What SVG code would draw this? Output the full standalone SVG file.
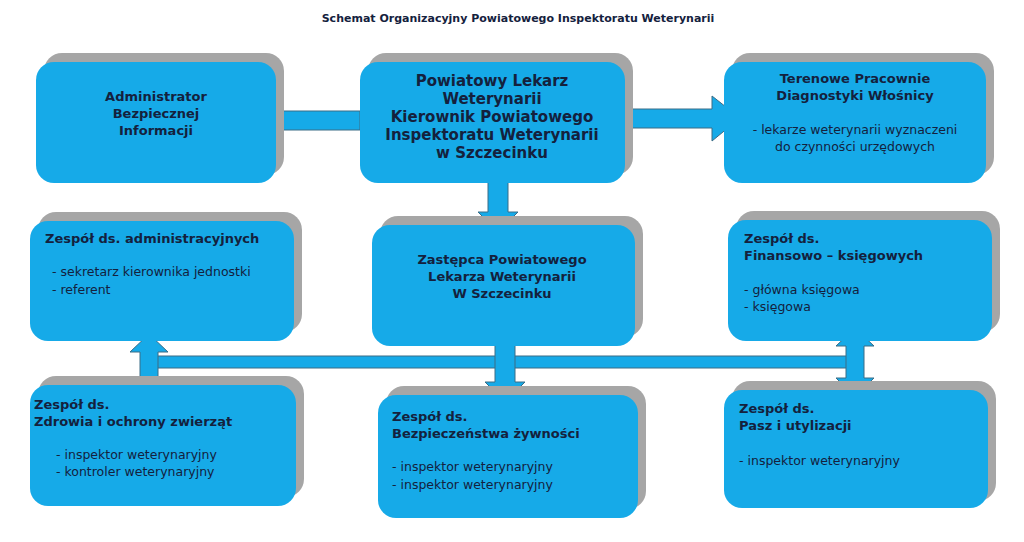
<svg xmlns="http://www.w3.org/2000/svg" width="1024" height="542" viewBox="0 0 1024 542">
<style>
.sh{fill:#a6a6a6}
.bx{fill:#16aae8}
.ar{fill:#16aae8;stroke:#3a6c86;stroke-width:1}
text{font-family:"DejaVu Sans",Verdana,sans-serif;fill:#14213d}
.h{font-size:13px;font-weight:bold}
.l{font-size:12.5px}
.c{text-anchor:middle}
</style>
<rect width="1024" height="542" fill="#fff"/>
<text x="518" y="22" class="c" style="font-size:11px;font-weight:bold">Schemat Organizacyjny Powiatowego Inspektoratu Weterynarii</text>

<g id="connectors">
<rect class="ar" x="145" y="356" width="718" height="12"/>
<polygon class="ar" points="360,111 280,111 280,98 253,120 280,143 280,130 360,130"/>
<polygon class="ar" points="618,109 712,109 712,96 740,118 712,141 712,128 618,128"/>
<polygon class="ar" points="488,172 488,212 478,212 498,232 518,212 508,212 508,172"/>
<polygon class="ar" points="140,352 130,352 149,334 168,352 158,352 158,382 168,382 149,402 130,382 140,382"/>
<polygon class="ar" points="495,342 495,382 485,382 505,402 525,382 515,382 515,342"/>
<polygon class="ar" points="846,346 836,346 855,328 874,346 864,346 864,378 874,378 855,397 836,378 846,378"/>
</g>

<g id="n1"><rect class="sh" x="44" y="53" width="240" height="122" rx="18"/><rect class="bx" x="36" y="62" width="240" height="121" rx="18"/>
<text class="h c" x="156" y="101">Administrator</text><text class="h c" x="156" y="118">Bezpiecznej</text><text class="h c" x="156" y="135">Informacji</text></g>

<g id="n2"><rect class="sh" x="368" y="53" width="265" height="122" rx="18"/><rect class="bx" x="360" y="62" width="265" height="121" rx="18"/>
<text class="c" x="492" y="86" style="font-size:15px;font-weight:bold">Powiatowy Lekarz</text>
<text class="c" x="492" y="104" style="font-size:15px;font-weight:bold">Weterynarii</text>
<text class="c" x="492" y="122" style="font-size:15px;font-weight:bold">Kierownik Powiatowego</text>
<text class="c" x="492" y="140" style="font-size:15px;font-weight:bold">Inspektoratu Weterynarii</text>
<text class="c" x="492" y="158" style="font-size:15px;font-weight:bold">w Szczecinku</text></g>

<g id="n3"><rect class="sh" x="732" y="53" width="262" height="122" rx="18"/><rect class="bx" x="724" y="62" width="262" height="121" rx="18"/>
<text class="h c" x="855" y="83">Terenowe Pracownie</text><text class="h c" x="855" y="100">Diagnostyki Włośnicy</text>
<text class="l c" x="855" y="134">- lekarze weterynarii wyznaczeni</text><text class="l c" x="855" y="151">do czynności urzędowych</text></g>

<g id="n4"><rect class="sh" x="38" y="212" width="264" height="120" rx="18"/><rect class="bx" x="30" y="221" width="264" height="120" rx="18"/>
<text class="h" x="45" y="243">Zespół ds. administracyjnych</text>
<text class="l" x="52" y="276">- sekretarz kierownika jednostki</text><text class="l" x="52" y="294">- referent</text></g>

<g id="n5"><rect class="sh" x="380" y="216" width="263" height="121" rx="18"/><rect class="bx" x="372" y="225" width="263" height="121" rx="18"/>
<text class="h c" x="502" y="264">Zastępca Powiatowego</text><text class="h c" x="502" y="281">Lekarza Weterynarii</text><text class="h c" x="502" y="298">W Szczecinku</text></g>

<g id="n6"><rect class="sh" x="736" y="211" width="264" height="121" rx="18"/><rect class="bx" x="728" y="220" width="264" height="121" rx="18"/>
<text class="h" x="744" y="243">Zespół ds.</text><text class="h" x="744" y="260">Finansowo – księgowych</text>
<text class="l" x="744" y="294">- główna księgowa</text><text class="l" x="744" y="311">- księgowa</text></g>

<g id="n7"><rect class="sh" x="38" y="376" width="266" height="121" rx="18"/><rect class="bx" x="30" y="385" width="266" height="121" rx="18"/>
<text class="h" x="34" y="409">Zespół ds.</text><text class="h" x="34" y="426">Zdrowia i ochrony zwierząt</text>
<text class="l" x="56" y="459">- inspektor weterynaryjny</text><text class="l" x="56" y="476">- kontroler weterynaryjny</text></g>

<g id="n8"><rect class="sh" x="386" y="386" width="260" height="123" rx="18"/><rect class="bx" x="378" y="395" width="260" height="123" rx="18"/>
<text class="h" x="392" y="421">Zespół ds.</text><text class="h" x="392" y="438">Bezpieczeństwa żywności</text>
<text class="l" x="392" y="471">- inspektor weterynaryjny</text><text class="l" x="392" y="489">- inspektor weterynaryjny</text></g>

<g id="n9"><rect class="sh" x="732" y="381" width="264" height="120" rx="18"/><rect class="bx" x="724" y="390" width="264" height="118" rx="18"/>
<text class="h" x="739" y="413">Zespół ds.</text><text class="h" x="739" y="430">Pasz i utylizacji</text>
<text class="l" x="739" y="465">- inspektor weterynaryjny</text></g>
</svg>
